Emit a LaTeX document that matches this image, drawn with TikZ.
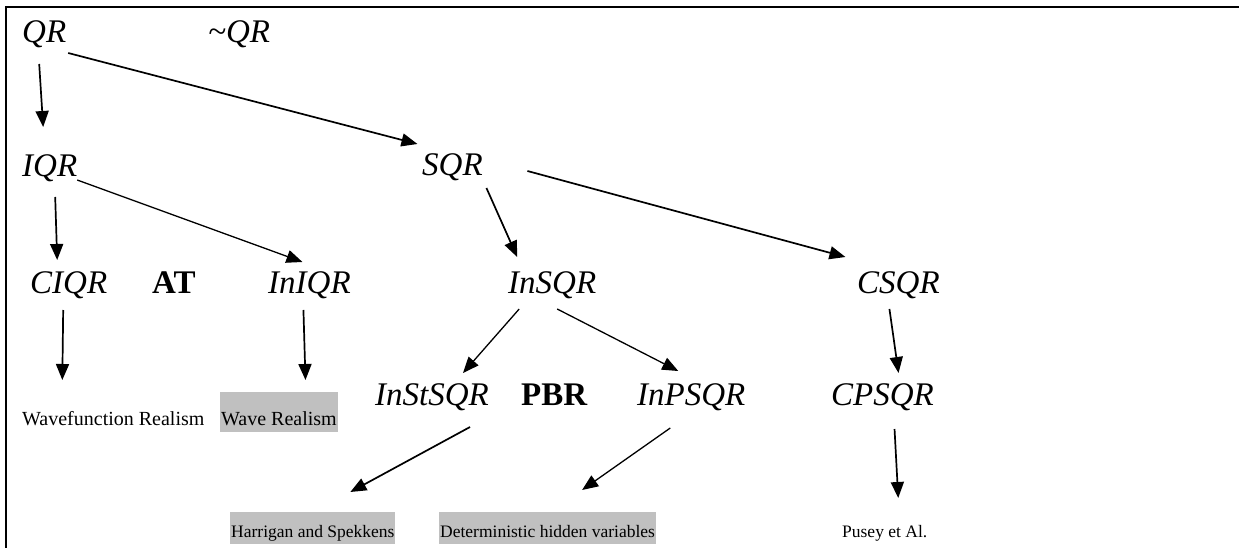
\documentclass[tikz,border=0pt]{standalone}
\usepackage{fontspec}
\setmainfont{Liberation Serif}
\usetikzlibrary{arrows.meta}
\definecolor{hlgray}{RGB}{192,192,192}

\begin{document}
\begin{tikzpicture}[x=1pt,y=-1pt,
  lbl/.style={inner sep=0pt,anchor=base west,font=\fontsize{33}{36}\selectfont\itshape},
  bld/.style={inner sep=0pt,anchor=base west,font=\fontsize{33}{36}\selectfont\bfseries},
  txt/.style={inner sep=0pt,anchor=base west,font=\fontsize{20}{22}\selectfont},
  smalltxt/.style={inner sep=0pt,anchor=base west,font=\fontsize{17.5}{20}\selectfont},
  hl/.style={fill=hlgray,inner xsep=1pt,text depth=7pt},
  arr/.style={line width=1.7pt,-{Triangle[length=16pt,width=13pt]}}]
  \useasboundingbox (0,0) rectangle (1239,548);
  \draw[line width=2.5pt] (6,548) -- (6,7) -- (1239,7);

  % first two rows
  \node[lbl] (QR) at (22,43) {QR};
  \node[lbl] (notQR) at (208,43) {\textasciitilde QR};
  \node[lbl] (IQR) at (22,177) {IQR};
  \node[lbl] (SQR) at (422,176) {SQR};

  % third row
  \node[lbl] (CIQR) at (30,293) {CIQR};
  \node[bld] (AT) at (152,293) {AT};
  \node[lbl] (InIQR) at (268,293) {InIQR};
  \node[lbl] (InSQR) at (508,293) {InSQR};
  \node[lbl] (CSQR) at (857,293) {CSQR};

  % fourth row
  \node[lbl] (InStSQR) at (375,405) {InStSQR};
  \node[bld] (PBR) at (521,405) {PBR};
  \node[lbl] (InPSQR) at (637,405) {InPSQR};
  \node[lbl] (CPSQR) at (831,405) {CPSQR};
  \node[txt] (wfr) at (22,425) {Wavefunction Realism};
  \node[txt,hl,text height=33pt] (wr) at (220,425) {Wave Realism};

  % bottom row
  \node[smalltxt,hl,text height=25pt] (hs) at (230,537) {Harrigan and Spekkens};
  \node[smalltxt,hl,text height=25pt] (dhv) at (439,537) {Deterministic hidden variables};
  \node[smalltxt] (pusey) at (842,537) {Pusey et Al.};

  % arrows
  \draw[arr] ([shift={(-5,21)}]QR.base) -- ([shift={(-6.5,-50)}]IQR.base);
  \draw[arr] ([shift={(24,10)}]QR.base) -- ([shift={(-35,-32)}]SQR.base);
  \draw[arr] ([shift={(5.5,20)}]IQR.base) -- ([shift={(-11.5,-33)}]CIQR.base);
  \draw[arr,line width=1.3pt] ([shift={(27.5,3)}]IQR.base) -- ([shift={(-7,-31)}]InIQR.base);
  \draw[arr] ([shift={(34,12)}]SQR.base) -- ([shift={(-35,-36)}]InSQR.base);
  \draw[arr] ([shift={(75,-5)}]SQR.base) -- ([shift={(-53,-36)}]CSQR.base);
  \draw[arr] ([shift={(-5.5,17)}]CIQR.base) -- ([shift={(-51,-45)}]wfr.base);
  \draw[arr] ([shift={(-6,17)}]InIQR.base) -- ([shift={(26.5,-45)}]wr.base);
  \draw[arr,line width=1.3pt] ([shift={(-33,16)}]InSQR.base) -- ([shift={(31,-32)}]InStSQR.base);
  \draw[arr,line width=1.3pt] ([shift={(5,16)}]InSQR.base) -- ([shift={(-13,-34)}]InPSQR.base);
  \draw[arr] ([shift={(-9,16)}]CSQR.base) -- ([shift={(16,-32)}]CPSQR.base);
  \draw[arr] ([shift={(38,22)}]InStSQR.base) -- ([shift={(37.5,-45)}]hs.base);
  \draw[arr,line width=1.3pt] ([shift={(-21,23)}]InPSQR.base) -- ([shift={(34.5,-47)}]dhv.base);
  \draw[arr] ([shift={(12,24)}]CPSQR.base) -- ([shift={(13.5,-39)}]pusey.base);
\end{tikzpicture}
\end{document}
